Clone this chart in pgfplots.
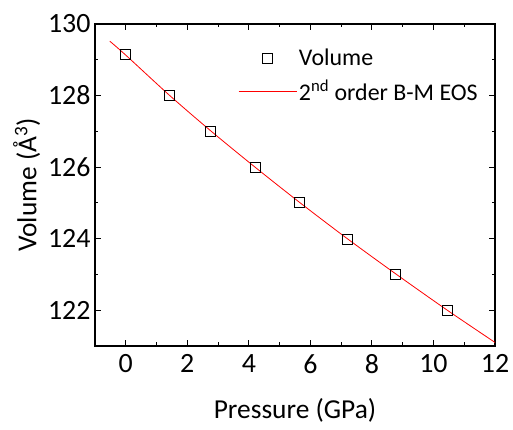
\documentclass[border=0pt]{standalone}
\usepackage{fontspec}
\setmainfont{Carlito}
\usepackage{pgfplots}
\pgfplotsset{compat=1.18}
\pgfplotsset{
    marklegend/.style={legend image code/.code={\draw[mark repeat=2,mark phase=2,##1] plot coordinates {(0bp,0bp)(29bp,0bp)(58bp,0bp)};}},
    linelegend/.style={legend image code/.code={\draw[##1] (0bp,0bp) -- (58bp,0bp);}},
}
\begin{document}
\begin{tikzpicture}
\begin{axis}[
    scale only axis,
    width=400bp, height=322bp,
    xmin=-1, xmax=12, ymin=121, ymax=130,
    xtick={0,2,...,12}, ytick={122,124,...,130},
    minor x tick num=1, minor y tick num=1,
    tick align=inside,
    major tick length=6bp, minor tick length=3.5bp,
    axis line style={line width=1.1bp},
    every tick/.style={black, line width=1bp},
    /pgf/number format/assume math mode=true,
    ticklabel style={font=\fontsize{28}{30}\selectfont},
    xticklabel style={yshift=-5bp},
    yticklabel style={xshift=-1bp},
    label style={font=\fontsize{27.5}{30}\selectfont},
    xlabel={Pressure (GPa)},
    ylabel={Volume (Å\textsuperscript{3})},
    xlabel style={yshift=-18bp},
    ylabel style={yshift=1bp},
    legend style={draw=none, fill=none, at={(0.35,0.935)}, anchor=north west,
        font=\fontsize{24}{28}\selectfont, row sep=9bp,
        nodes={inner sep=2bp}},
    legend cell align=left,
]
\addplot[only marks, mark=square, mark size=5bp, black, line width=1bp, marklegend]
    coordinates {
    (0,129.16) (1.43,128.01) (2.76,127.0) (4.2,126.0)
    (5.66,125.0) (7.19,123.99) (8.78,123.0) (10.44,122.0)
};
\addlegendentry{Volume}
\addplot[red, line width=0.8bp, smooth, linelegend]
    coordinates {
    (-0.52,129.52) (0,129.13) (1.43,128.0) (2.78,127.0) (4.2,126.0)
    (5.67,125.0) (7.2,124.0) (8.8,123.0) (10.45,122.0) (12,121.1)
};
\addlegendentry{2\textsuperscript{nd} order B-M EOS}
\end{axis}
\path ([shift={(-95bp,-84bp)}]current axis.south west) rectangle ([shift={(18bp,24bp)}]current axis.north east);
\end{tikzpicture}
\end{document}
